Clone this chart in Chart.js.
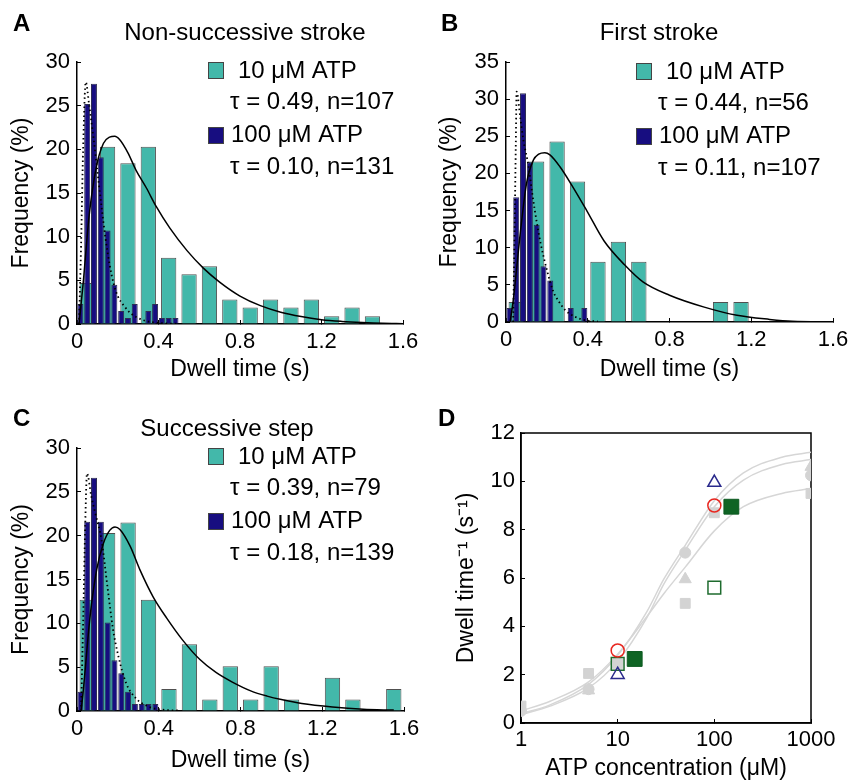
<!DOCTYPE html>
<html>
<head>
<meta charset="utf-8">
<script src="https://cdn.jsdelivr.net/npm/chart.js@4.4.1/dist/chart.umd.min.js"></script>
<style>
  body { margin: 0; background: #fff; }
  #page { position: relative; width: 852px; height: 782px; overflow: hidden; }
  canvas { position: absolute; }
</style>
</head>
<body>
<div id="page">
  <canvas id="chartA" width="426" height="390" style="left:0;top:0"></canvas>
  <canvas id="chartB" width="426" height="390" style="left:426px;top:0"></canvas>
  <canvas id="chartC" width="426" height="402" style="left:0;top:380px"></canvas>
  <canvas id="chartD" width="426" height="402" style="left:426px;top:380px"></canvas>
</div>
<script>
// bin centres (s): 10 uM ATP uses 0.1 s bins, 100 uM ATP uses 1/30 s bins
const binsSlow = [0.05, 0.15, 0.25, 0.35, 0.45, 0.55, 0.65, 0.75, 0.85, 0.95, 1.05, 1.15, 1.25, 1.35, 1.45, 1.55];
const binsFast = [0.0167, 0.05, 0.0833, 0.1167, 0.15, 0.1833, 0.2167, 0.25, 0.2833, 0.3167, 0.35, 0.3833, 0.4167, 0.45, 0.4833];

const xTicksHist = [0, 0.4, 0.8, 1.2, 1.6];
const yTicks30 = [0, 5, 10, 15, 20, 25, 30];
const yTicks35 = [0, 5, 10, 15, 20, 25, 30, 35];

// A: non-successive stroke (frequency %)
const slowA = [4.7, 20.3, 18.4, 20.3, 7.6, 5.7, 6.6, 2.8, 1.9, 2.8, 1.9, 2.8, 0.9, 1.9, 0.9];
const fastA = [2.3, 25.2, 27.5, 19.1, 10.7, 4.5, 1.5, 0.7, 2.3, 0, 1.5, 2.3, 0.7, 0.7, 0.7];
const fitSlowAx = [0.01, 0.03, 0.06, 0.095, 0.13, 0.16, 0.185, 0.21, 0.25, 0.29, 0.34, 0.39, 0.455, 0.54, 0.62, 0.7, 0.8, 0.9, 1.0, 1.1, 1.2, 1.3, 1.4, 1.5, 1.6];
const fitSlowAy = [0, 4.6, 12.5, 18.0, 20.7, 21.4, 21.5, 21.1, 19.6, 17.6, 15.6, 13.4, 11.0, 8.4, 6.4, 4.8, 3.2, 2.1, 1.35, 0.85, 0.5, 0.3, 0.17, 0.08, 0.04];
const fitFastAx = [0.01, 0.02, 0.03, 0.043, 0.06, 0.08, 0.1, 0.12, 0.14, 0.16, 0.18, 0.2, 0.23, 0.26, 0.29, 0.33, 0.38, 0.44, 0.5];
const fitFastAy = [0, 9, 20, 27.7, 25, 21.5, 17.5, 13.5, 9.8, 6.8, 4.6, 3.2, 2.1, 1.3, 0.8, 0.4, 0.18, 0.06, 0.02];
const legendA = ['10 μM ATP', 'τ = 0.49, n=107', '100 μM ATP', 'τ = 0.10, n=131'];

// B: first stroke
const slowB = [2.7, 21.6, 24.3, 18.9, 8.1, 10.8, 8.1, 0, 0, 0, 2.7, 2.7];
const fastB = [1.9, 16.8, 30.8, 21.5, 13.1, 7.5, 5.6, 0, 0, 1.9, 0, 1.9];
const fitSlowBx = [0.02, 0.036, 0.068, 0.1, 0.134, 0.16, 0.19, 0.215, 0.264, 0.32, 0.395, 0.48, 0.58, 0.67, 0.8, 0.97, 1.13, 1.29, 1.4, 1.6];
const fitSlowBy = [0, 3.0, 11.5, 18.6, 21.8, 22.6, 22.8, 22.5, 20.9, 18.5, 15.0, 10.9, 7.7, 5.4, 3.6, 2.0, 0.9, 0.35, 0.1, 0.02];
const fitFastBx = [0.035, 0.042, 0.048, 0.052, 0.07, 0.085, 0.11, 0.13, 0.15, 0.17, 0.2, 0.23, 0.26, 0.29, 0.33, 0.38, 0.45];
const fitFastBy = [0, 12, 24, 31, 27.5, 24.5, 21, 17, 13.5, 10.5, 7, 4.2, 2.7, 1.6, 0.8, 0.3, 0.05];
const legendB = ['10 μM ATP', 'τ = 0.44, n=56', '100 μM ATP', 'τ = 0.11, n=107'];

// C: successive step
const slowC = [12.7, 20.3, 21.5, 12.7, 2.5, 7.6, 1.3, 5.1, 1.3, 5.1, 1.3, 0, 3.8, 1.3, 0, 2.5];
const fastC = [2.2, 21.6, 26.6, 21.6, 10.1, 5.8, 4.3, 2.2, 0.8, 0.8, 0.8, 0.8];
const fitSlowCx = [0.02, 0.031, 0.064, 0.096, 0.129, 0.16, 0.186, 0.21, 0.26, 0.308, 0.373, 0.439, 0.52, 0.6, 0.68, 0.76, 0.85, 0.93, 1.0, 1.1, 1.25, 1.4, 1.55];
const fitSlowCy = [0, 2.4, 10.8, 16.1, 19.1, 20.6, 21.0, 20.7, 18.8, 16.1, 13.0, 10.6, 8.0, 5.9, 4.4, 3.3, 2.3, 1.7, 1.3, 0.85, 0.45, 0.2, 0.1];
const fitFastCx = [0.02, 0.03, 0.04, 0.049, 0.07, 0.09, 0.12, 0.15, 0.175, 0.2, 0.24, 0.29, 0.35, 0.42, 0.5];
const fitFastCy = [0, 10, 21, 27.1, 24.5, 22.5, 19.5, 14, 9.5, 6.5, 3.2, 1.4, 0.5, 0.15, 0.05];
const legendC = ['10 μM ATP', 'τ = 0.39, n=79', '100 μM ATP', 'τ = 0.18, n=139'];

// D: rate vs ATP concentration
const xTicksD = [1, 10, 100, 1000];
const yTicksD = [0, 2, 4, 6, 8, 10, 12];
const atpFit = [1, 2, 5, 10, 20, 30, 50, 100, 200, 500, 1000];
const rateFit1 = [0.38, 0.75, 1.6, 2.8, 4.6, 5.95, 7.35, 9.2, 10.35, 11.0, 11.2];
const rateFit2 = [0.35, 0.7, 1.45, 2.55, 4.35, 5.75, 7.15, 8.95, 10.05, 10.7, 10.9];
const rateFit3 = [0.5, 0.9, 1.7, 2.85, 4.4, 5.35, 6.45, 7.95, 8.95, 9.5, 9.7];
const graySqX = [1, 5, 10, 50, 100, 1000];
const graySqY = [0.7, 2.05, 2.45, 4.95, 8.7, 9.5];
const grayCircX = [1, 5, 50, 1000];
const grayCircY = [0.5, 1.4, 7.05, 10.25];
const grayTriX = [1, 5, 50, 1000];
const grayTriY = [0.55, 1.35, 5.95, 10.6];
const redX = [10, 100];
const redY = [3.0, 9.0];
const blueX = [10, 100];
const blueY = [2.0, 9.95];
const greenOpenX = [10, 100];
const greenOpenY = [2.45, 5.6];
const greenFillX = [15, 150];
const greenFillY = [2.65, 8.95];

const FONT = "'Liberation Sans', Arial, Helvetica, sans-serif";
const TEAL = '#43b8aa';
const NAVY = '#170d80';
const GRAY = '#d3d3d3';

Chart.defaults.font.family = FONT;
Chart.defaults.color = '#000';

const pts = (xs, ys) => ys.map((y, i) => ({x: xs[i], y: y}));

const panelText = {
    id: 'panelText',
    afterDraw(chart, args, o) {
        const ctx = chart.ctx;
        ctx.save();
        ctx.fillStyle = '#000';
        ctx.textBaseline = 'middle';
        ctx.font = 'bold 24px ' + FONT;
        ctx.fillText(o.letter, o.letterPos[0], o.letterPos[1]);
        if (o.title) {
            ctx.font = '24px ' + FONT;
            ctx.textAlign = 'center';
            ctx.fillText(o.title, o.titlePos[0], o.titlePos[1]);
            ctx.textAlign = 'left';
        }
        if (o.legend) {
            const x = o.legendPos[0], y = o.legendPos[1];
            ctx.lineWidth = 1;
            ctx.strokeStyle = '#444';
            ctx.fillStyle = TEAL;
            ctx.fillRect(x, y, 15, 16);
            ctx.strokeRect(x + 0.5, y + 0.5, 15, 16);
            ctx.fillStyle = NAVY;
            ctx.fillRect(x, y + 65, 15, 16);
            ctx.strokeRect(x + 0.5, y + 65.5, 15, 16);
            ctx.fillStyle = '#000';
            ctx.font = '24px ' + FONT;
            ctx.fillText(o.legend[0], x + 30, y + 9);
            ctx.fillText(o.legend[1], x + 22, y + 40);
            ctx.fillText(o.legend[2], x + 23, y + 73);
            ctx.fillText(o.legend[3], x + 22, y + 105);
        }
        ctx.restore();
    }
};

const boxFrame = {
    id: 'boxFrame',
    beforeDatasetsDraw(chart) {
        const {ctx, chartArea: a} = chart;
        ctx.save();
        ctx.strokeStyle = '#000';
        ctx.lineWidth = 1.5;
        ctx.strokeRect(a.left, a.top, a.right - a.left, a.bottom - a.top);
        ctx.restore();
    }
};

function histChart(id, o) {
    return new Chart(document.getElementById(id), {
        type: 'bar',
        plugins: [panelText],
        data: {
            datasets: [
                {
                    type: 'line',
                    data: pts(o.fitSlow[0], o.fitSlow[1]),
                    borderColor: '#000',
                    borderWidth: 1.5,
                    pointRadius: 0,
                    cubicInterpolationMode: 'monotone',
                    order: 0
                },
                {
                    type: 'line',
                    data: pts(o.fitFast[0], o.fitFast[1]),
                    borderColor: '#000',
                    borderWidth: 1.8,
                    borderDash: [1.5, 3],
                    pointRadius: 0,
                    cubicInterpolationMode: 'monotone',
                    order: 0
                },
                {
                    data: pts(binsFast, o.fast),
                    backgroundColor: NAVY,
                    borderColor: '#2e2e52',
                    borderWidth: 1,
                    grouped: false,
                    categoryPercentage: 1,
                    barPercentage: 0.88,
                    order: 1
                },
                {
                    data: pts(binsSlow, o.slow),
                    backgroundColor: TEAL,
                    borderColor: '#505050',
                    borderWidth: 1,
                    grouped: false,
                    categoryPercentage: 1,
                    barPercentage: 2.25,
                    order: 2
                }
            ]
        },
        options: {
            responsive: false,
            animation: false,
            events: [],
            layout: { padding: o.pad },
            plugins: {
                legend: { display: false },
                tooltip: { enabled: false },
                panelText: o.text
            },
            scales: {
                x: {
                    type: 'linear',
                    min: 0,
                    max: 1.6,
                    offset: false,
                    afterBuildTicks: s => { s.ticks = xTicksHist.map(v => ({value: v})); },
                    afterFit: s => { s.height = o.xH; s.paddingLeft = 0; s.paddingRight = 0; },
                    ticks: { callback: v => String(v), padding: 9, maxRotation: 0, autoSkip: false, font: { size: 22 } },
                    grid: { drawOnChartArea: false, tickLength: -4, color: '#000', offset: false },
                    border: { color: '#000', width: 1.5 },
                    title: { display: true, text: 'Dwell time (s)', font: { size: 23 }, padding: { top: 0, bottom: o.xTitlePad } }
                },
                y: {
                    min: 0,
                    max: o.yMax,
                    afterBuildTicks: s => { s.ticks = o.yTicks.map(v => ({value: v})); },
                    afterFit: s => { s.width = o.yW; s.paddingTop = 0; s.paddingBottom = 0; },
                    ticks: { callback: v => String(v), padding: 11, font: { size: 22 } },
                    grid: { drawOnChartArea: false, tickLength: -4, color: '#000' },
                    border: { color: '#000', width: 1.5 },
                    title: { display: true, text: 'Frequency (%)', font: { size: 23 }, padding: { top: o.yTitlePad, bottom: 0 } }
                }
            }
        }
    });
}

histChart('chartA', {
    slow: slowA, fast: fastA,
    fitSlow: [fitSlowAx, fitSlowAy], fitFast: [fitFastAx, fitFastAy],
    yMax: 30, yTicks: yTicks30,
    pad: { top: 62, right: 23, left: 0, bottom: 0 },
    yW: 77, xH: 66, xTitlePad: 7, yTitlePad: 8,
    text: { letter: 'A', letterPos: [13, 24], title: 'Non-successive stroke', titlePos: [245, 33], legend: legendA, legendPos: [208, 62] }
});

histChart('chartB', {
    slow: slowB, fast: fastB,
    fitSlow: [fitSlowBx, fitSlowBy], fitFast: [fitFastBx, fitFastBy],
    yMax: 35, yTicks: yTicks35,
    pad: { top: 62, right: 19, left: 0, bottom: 0 },
    yW: 80, xH: 68, xTitlePad: 7, yTitlePad: 10,
    text: { letter: 'B', letterPos: [15, 24], title: 'First stroke', titlePos: [233, 33], legend: legendB, legendPos: [210, 63] }
});

histChart('chartC', {
    slow: slowC, fast: fastC,
    fitSlow: [fitSlowCx, fitSlowCy], fitFast: [fitFastCx, fitFastCy],
    yMax: 30, yTicks: yTicks30,
    pad: { top: 68, right: 22, left: 0, bottom: 0 },
    yW: 77, xH: 71, xTitlePad: 8, yTitlePad: 8,
    text: { letter: 'C', letterPos: [13, 39], title: 'Successive step', titlePos: [227, 49], legend: legendC, legendPos: [208, 68] }
});

new Chart(document.getElementById('chartD'), {
    type: 'scatter',
    plugins: [boxFrame, panelText],
    data: {
        datasets: [
            { type: 'line', data: pts(atpFit, rateFit1), borderColor: '#d6d6d6', borderWidth: 1.5, pointRadius: 0, cubicInterpolationMode: 'monotone', order: 10 },
            { type: 'line', data: pts(atpFit, rateFit2), borderColor: '#d6d6d6', borderWidth: 1.5, pointRadius: 0, cubicInterpolationMode: 'monotone', order: 10 },
            { type: 'line', data: pts(atpFit, rateFit3), borderColor: '#d6d6d6', borderWidth: 1.5, pointRadius: 0, cubicInterpolationMode: 'monotone', order: 10 },
            { data: pts(graySqX, graySqY), pointStyle: 'rect', pointRadius: 7, backgroundColor: GRAY, borderColor: GRAY, order: 5 },
            { data: pts(grayCircX, grayCircY), pointStyle: 'circle', pointRadius: 5.5, backgroundColor: GRAY, borderColor: GRAY, order: 5 },
            { data: pts(grayTriX, grayTriY), pointStyle: 'triangle', pointRadius: 7, backgroundColor: GRAY, borderColor: GRAY, order: 5 },
            { data: pts(greenOpenX, greenOpenY), pointStyle: 'rect', pointRadius: 9, backgroundColor: 'rgba(0,0,0,0)', borderColor: '#1e6b2e', borderWidth: 1.5, order: 2 },
            { data: pts(greenFillX, greenFillY), pointStyle: 'rect', pointRadius: 10.5, backgroundColor: '#0f6424', borderColor: '#0c5a20', borderWidth: 1, order: 2 },
            { data: pts(redX, redY), pointStyle: 'circle', pointRadius: 6.5, backgroundColor: 'rgba(0,0,0,0)', borderColor: '#e8261f', borderWidth: 1.5, order: 1 },
            { data: pts(blueX, blueY), pointStyle: 'triangle', pointRadius: 7.5, backgroundColor: 'rgba(0,0,0,0)', borderColor: '#2a2a8c', borderWidth: 1.5, order: 1 }
        ]
    },
    options: {
        responsive: false,
        animation: false,
        events: [],
        layout: { padding: { top: 53, right: 41, left: 0, bottom: 0 } },
        plugins: {
            legend: { display: false },
            tooltip: { enabled: false },
            panelText: { letter: 'D', letterPos: [12, 39] }
        },
        scales: {
            x: {
                type: 'logarithmic',
                min: 1,
                max: 1000,
                afterBuildTicks: s => { s.ticks = xTicksD.map(v => ({value: v})); },
                afterFit: s => { s.height = 59; s.paddingLeft = 0; s.paddingRight = 0; },
                ticks: { callback: v => String(v), padding: 8, maxRotation: 0, autoSkip: false, font: { size: 22 } },
                grid: { drawOnChartArea: false, tickLength: -4, color: '#000' },
                border: { color: '#000', width: 1.5 },
                title: { display: true, text: 'ATP concentration (μM)', font: { size: 23 }, padding: { top: 0, bottom: 0 } }
            },
            y: {
                min: 0,
                max: 12,
                afterBuildTicks: s => { s.ticks = yTicksD.map(v => ({value: v})); },
                afterFit: s => { s.width = 95; s.paddingTop = 0; s.paddingBottom = 0; },
                ticks: { callback: v => String(v), padding: 10, font: { size: 22 } },
                grid: { drawOnChartArea: false, tickLength: -4, color: '#000' },
                border: { color: '#000', width: 1.5 },
                title: { display: true, text: 'Dwell time⁻¹ (s⁻¹)', font: { size: 23 }, padding: { top: 27, bottom: 0 } }
            }
        }
    }
});
</script>
</body>
</html>
